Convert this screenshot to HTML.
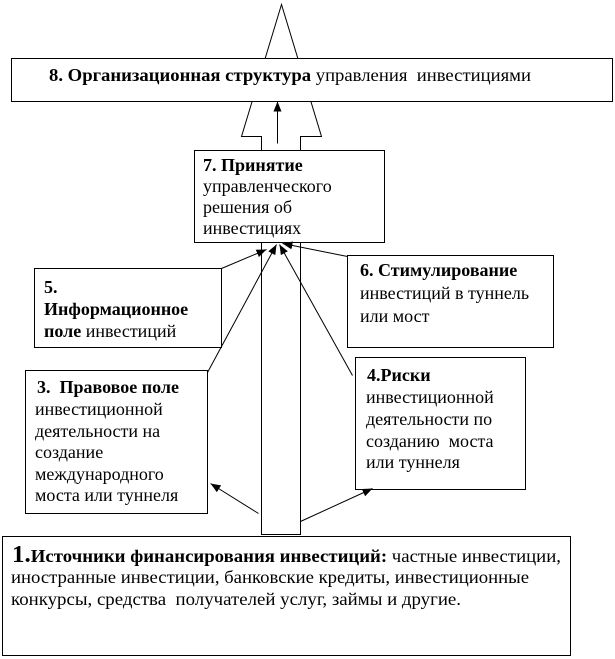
<!DOCTYPE html>
<html>
<head>
<meta charset="utf-8">
<style>
  html,body{margin:0;padding:0;background:#fff;}
  svg{display:block;}
  text{font-family:"Liberation Serif","DejaVu Serif",serif;font-size:18px;fill:#000;}
  .b{font-weight:bold;}
</style>
</head>
<body>
<svg width="615" height="659" viewBox="0 0 615 659" xmlns="http://www.w3.org/2000/svg" font-family="Liberation Serif, DejaVu Serif, serif">
  <defs>
    <marker id="ah" markerWidth="10" markerHeight="8" refX="10" refY="4" orient="auto" markerUnits="userSpaceOnUse">
      <path d="M0,0 L10,4 L0,8 z" fill="#000"/>
    </marker>
  </defs>
  <rect width="615" height="659" fill="#fff"/>
  <g transform="translate(0.5,0.5)" stroke="#000" stroke-width="1" fill="#fff">
    <!-- big hollow arrow -->
    <polygon points="281,4 241,136 261,136 261,534 300,534 300,136 321,136"/>
    <!-- box 8 -->
    <rect x="11" y="58" width="601" height="43"/>
    <!-- box 7 -->
    <rect x="194" y="150" width="190" height="92"/>
    <!-- box 5 -->
    <rect x="34" y="268" width="187" height="79"/>
    <!-- box 6 -->
    <rect x="347" y="255" width="206" height="92"/>
    <!-- box 3 -->
    <rect x="25" y="370" width="182" height="143"/>
    <!-- box 4 -->
    <rect x="355" y="357" width="170" height="132"/>
    <!-- box 1 -->
    <rect x="2" y="536" width="568" height="119"/>
  </g>
  <g transform="translate(0.5,0.5)" stroke="#000" stroke-width="1" fill="none">
    <line x1="277" y1="143" x2="277" y2="101" marker-end="url(#ah)"/>
    <line x1="221" y1="268" x2="266" y2="249" marker-end="url(#ah)"/>
    <line x1="207" y1="372" x2="276" y2="244" marker-end="url(#ah)"/>
    <line x1="352" y1="375" x2="279" y2="244" marker-end="url(#ah)"/>
    <line x1="347" y1="256" x2="282" y2="243" marker-end="url(#ah)"/>
    <line x1="258" y1="513" x2="210" y2="483" marker-end="url(#ah)"/>
    <line x1="300" y1="521" x2="372" y2="488" marker-end="url(#ah)"/>
  </g>

  <!-- box 8 text -->
  <text x="49" y="81" xml:space="preserve" textLength="482" lengthAdjust="spacingAndGlyphs"><tspan class="b">8. Организационная структура</tspan> управления  инвестициями</text>

  <!-- box 7 text -->
  <text x="203" y="171" class="b">7. Принятие</text>
  <text x="203" y="192">управленческого</text>
  <text x="203" y="213">решения об</text>
  <text x="203" y="234">инвестициях</text>

  <!-- box 5 text -->
  <text x="44" y="293" class="b">5.</text>
  <text x="44" y="315" class="b">Информационное</text>
  <text x="44" y="337"><tspan class="b">поле</tspan> инвестиций</text>

  <!-- box 6 text -->
  <text x="360" y="276" class="b">6. Стимулирование</text>
  <text x="360" y="299">инвестиций в туннель</text>
  <text x="360" y="322">или мост</text>

  <!-- box 3 text -->
  <text x="37" y="393" class="b" xml:space="preserve">3.  Правовое поле</text>
  <text x="35" y="415">инвестиционной</text>
  <text x="35" y="437">деятельности на</text>
  <text x="35" y="458">создание</text>
  <text x="35" y="480">международного</text>
  <text x="35" y="501">моста или туннеля</text>

  <!-- box 4 text -->
  <text x="367" y="381" class="b">4.Риски</text>
  <text x="366" y="403">инвестиционной</text>
  <text x="366" y="425">деятельности по</text>
  <text x="366" y="447" xml:space="preserve">созданию  моста</text>
  <text x="366" y="468">или туннеля</text>

  <!-- box 1 text -->
  <text x="12" y="562" textLength="549" lengthAdjust="spacingAndGlyphs"><tspan class="b" style="font-size:24px">1.</tspan><tspan class="b">Источники финансирования инвестиций:</tspan> частные инвестиции,</text>
  <text x="11" y="583" textLength="518" lengthAdjust="spacingAndGlyphs">иностранные инвестиции, банковские кредиты, инвестиционные</text>
  <text x="11" y="605" xml:space="preserve" textLength="450" lengthAdjust="spacingAndGlyphs">конкурсы, средства  получателей услуг, займы и другие.</text>
</svg>
</body>
</html>
